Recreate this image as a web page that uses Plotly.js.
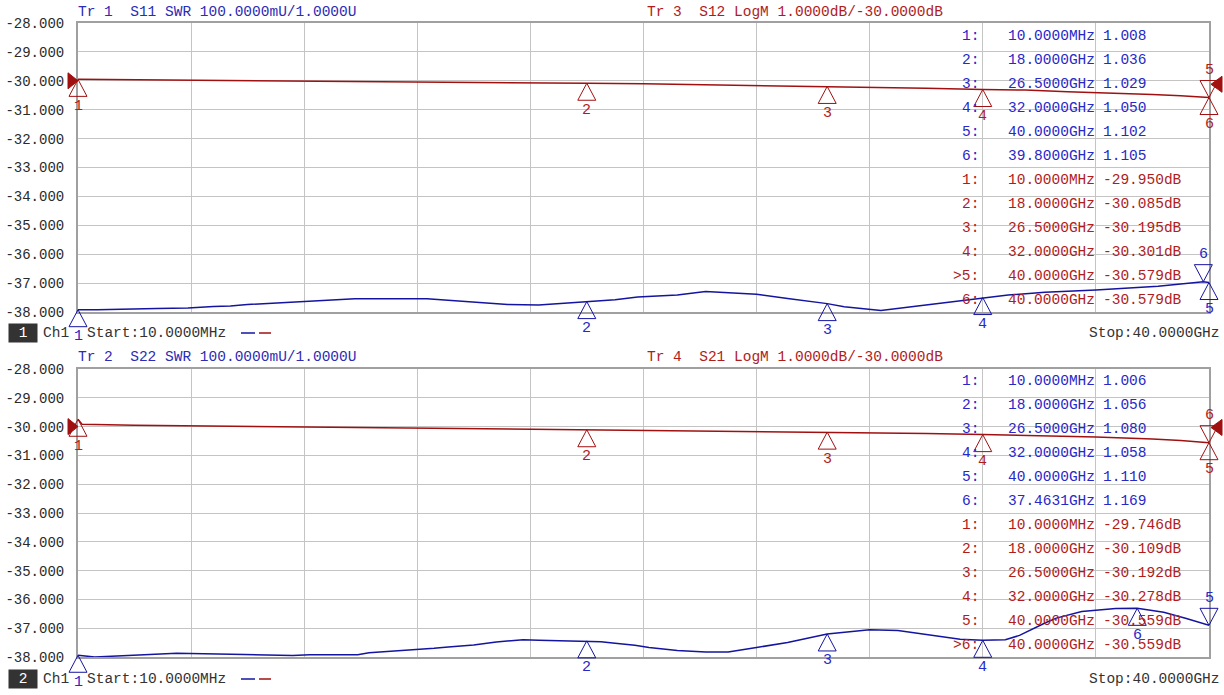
<!DOCTYPE html>
<html><head><meta charset="utf-8">
<script src="https://cdn.plot.ly/plotly-3.0.1.min.js"></script>
<style>body{margin:0;background:#fff}#chart{width:1224px;height:695px}
.shapelayer path,.shapelayer g{clip-path:none !important}</style>
</head><body><div id="chart"></div>
<script>
// ---------- data ----------
const dbTicks = [-28,-29,-30,-31,-32,-33,-34,-35,-36,-37,-38];
const dbTickLabels = ['-28.000','-29.000','-30.000','-31.000','-32.000','-33.000','-34.000','-35.000','-36.000','-37.000','-38.000'];

// Tr1 S11 SWR (GHz, U)
const s11Freq = [0.01,0.7,2.8,3.9,4.8,5.4,6.0,6.6,7.1,7.8,8.3,9.1,9.8,12.35,12.9,13.3,13.9,14.3,15.2,16.3,16.9,17.4,18.0,18.4,19.0,19.8,21.2,22.2,23.1,24.0,25.1,26.5,27.1,28.2,28.4,29.7,30.9,32.0,32.9,34.2,36.0,38.2,39.8,40.0];
const s11Swr  = [1.008,1.008,1.012,1.014,1.019,1.021,1.026,1.029,1.033,1.036,1.040,1.042,1.046,1.046,1.042,1.038,1.034,1.031,1.026,1.024,1.028,1.032,1.036,1.038,1.042,1.052,1.059,1.071,1.066,1.061,1.047,1.029,1.018,1.005,1.005,1.021,1.036,1.050,1.059,1.068,1.076,1.089,1.105,1.102];
// Tr3 S12 LogM (GHz, dB)
const s12Freq = [0.01,1.6,3.2,5.5,7.6,9.5,12,14,16,18,20,22,24,26.5,28,30,32,33.5,35,36.5,38,39,40];
const s12Db   = [-29.95,-29.96,-29.99,-29.99,-30.01,-30.02,-30.03,-30.05,-30.07,-30.085,-30.10,-30.13,-30.16,-30.195,-30.21,-30.26,-30.301,-30.32,-30.38,-30.42,-30.47,-30.52,-30.579];
// Tr2 S22 SWR
const s22Freq = [0.01,0.6,1.2,2.2,3.5,5.9,7.6,8.2,9.9,10.3,11.3,11.9,12.6,13.1,14.0,14.8,15.75,16.3,18.0,18.5,19.0,19.7,20.2,21.2,22.2,23.0,24.0,25.1,26.5,27.1,28.0,29.0,30.2,31.2,32.0,32.8,33.3,33.7,34.2,34.6,35.5,36.7,37.46,38.4,39.2,40.0];
const s22Swr  = [1.006,1.000,1.003,1.008,1.013,1.009,1.005,1.008,1.008,1.015,1.021,1.026,1.030,1.035,1.042,1.052,1.060,1.058,1.056,1.053,1.048,1.041,1.033,1.023,1.017,1.017,1.033,1.050,1.080,1.087,1.095,1.092,1.076,1.062,1.058,1.060,1.075,1.095,1.118,1.135,1.158,1.168,1.169,1.155,1.134,1.110];
// Tr4 S21 LogM
const s21Freq = [0.01,0.15,2,4,6,8,10,12,14,16,18,20,22,24,26.5,28,30,32,34,36,38,39,40];
const s21Db   = [-29.746,-29.92,-29.95,-29.97,-29.99,-30.02,-30.04,-30.06,-30.07,-30.09,-30.109,-30.12,-30.15,-30.17,-30.192,-30.21,-30.24,-30.278,-30.31,-30.36,-30.43,-30.48,-30.559];

// markers
const markerIds = [1,2,3,4,5,6];
const s11MkFreq = [0.01,18,26.5,32,40,39.8];
const s11MkVal  = [1.008,1.036,1.029,1.050,1.102,1.105];
const s12MkFreq = [0.01,18,26.5,32,40,40];
const s12MkVal  = [-29.950,-30.085,-30.195,-30.301,-30.579,-30.579];
const s22MkFreq = [0.01,18,26.5,32,40,37.4631];
const s22MkVal  = [1.006,1.056,1.080,1.058,1.110,1.169];
const s21MkFreq = [0.01,18,26.5,32,40,40];
const s21MkVal  = [-29.746,-30.109,-30.192,-30.278,-30.559,-30.559];

// ---------- style ----------
const FONT = 'Liberation Mono, DejaVu Sans Mono, monospace';
const BLUE_LINE = '#1414a0', RED_LINE = '#a01010';
const BLUE_TXT = '#2828c8', RED_TXT = '#b01c1c';
const nb = s => s.replace(/ /g, '\u00a0');
const P = (px, py) => ({x: (px - 78) / 1131, y: (657 - py) / 634});

function fmtFreq(f) {
  return f < 1 ? (f * 1000).toFixed(4) + 'MHz' : f.toFixed(4) + 'GHz';
}

const traces = [
  {x: s12Freq, y: s12Db, xaxis: 'x2', yaxis: 'y3', mode: 'lines', line: {color: RED_LINE, width: 1.5}, hoverinfo: 'skip'},
  {x: s11Freq, y: s11Swr, xaxis: 'x2', yaxis: 'y4', mode: 'lines', line: {color: BLUE_LINE, width: 1.5}, hoverinfo: 'skip'},
  {x: s21Freq, y: s21Db, xaxis: 'x', yaxis: 'y', mode: 'lines', line: {color: RED_LINE, width: 1.5}, hoverinfo: 'skip'},
  {x: s22Freq, y: s22Swr, xaxis: 'x', yaxis: 'y2', mode: 'lines', line: {color: BLUE_LINE, width: 1.5}, hoverinfo: 'skip'}
];

const shapes = [];
const annotations = [];

function addMarkers(xref, yref, freqs, vals, downIdx, color, txtColor) {
  freqs.forEach((f, i) => {
    const down = downIdx.includes(i);
    shapes.push({
      type: 'path', xref, yref, xsizemode: 'pixel', ysizemode: 'pixel',
      xanchor: f, yanchor: vals[i],
      path: down ? 'M0,0L-9,17L9,17Z' : 'M0,0L-9,-17L9,-17Z',
      line: {color, width: 1}, fillcolor: 'rgba(0,0,0,0)', layer: 'above'
    });
    annotations.push({
      xref, yref, x: f, y: vals[i], text: String(markerIds[i]), showarrow: false,
      yshift: down ? 27 : -27, font: {family: FONT, size: 15, color: txtColor}
    });
  });
}
addMarkers('x2', 'y3', s12MkFreq, s12MkVal, [4], RED_LINE, RED_TXT);
addMarkers('x2', 'y4', s11MkFreq, s11MkVal, [5], BLUE_LINE, BLUE_TXT);
addMarkers('x', 'y', s21MkFreq, s21MkVal, [5], RED_LINE, RED_TXT);
addMarkers('x', 'y2', s22MkFreq, s22MkVal, [4], BLUE_LINE, BLUE_TXT);

// reference arrows (filled)
[['x2','y3',-30,-30.12],['x','y',-30,-30.03]].forEach(([xr, yr, yl, yr2]) => {
  shapes.push({type:'path', xref:xr, yref:yr, xsizemode:'pixel', ysizemode:'pixel', xanchor:0.01, yanchor:yl,
    path:'M0,0L-10,8L-10,-8Z', line:{color:RED_LINE,width:1}, fillcolor:RED_LINE, layer:'above'});
  shapes.push({type:'path', xref:xr, yref:yr, xsizemode:'pixel', ysizemode:'pixel', xanchor:40, yanchor:yr2,
    path:'M2,0L13,8L13,-8Z', line:{color:RED_LINE,width:1}, fillcolor:RED_LINE, layer:'above'});
});

function txt(px, py, text, color, xanchor, size) {
  const p = P(px, py);
  annotations.push({xref:'paper', yref:'paper', x:p.x, y:p.y, text:nb(text), showarrow:false,
    xanchor:xanchor || 'left', yanchor:'middle', font:{family:FONT, size:size || 14.5, color}});
}

// headers
txt(76, 12, 'Tr 1  S11 SWR 100.0000mU/1.0000U', '#2c2cb4');
txt(645, 12, 'Tr 3  S12 LogM 1.0000dB/-30.0000dB', RED_TXT);
txt(76, 357, 'Tr 2  S22 SWR 100.0000mU/1.0000U', '#2c2cb4');
txt(645, 357, 'Tr 4  S21 LogM 1.0000dB/-30.0000dB', RED_TXT);

// footers
function footer(py, ch) {
  const p = P(23, py);
  annotations.push({xref:'paper', yref:'paper', x:p.x, y:p.y, text:nb(' ' + ch + ' '), showarrow:false,
    xanchor:'center', yanchor:'middle', bgcolor:'#333333', borderpad:1,
    font:{family:FONT, size:14.5, color:'#ffffff'}});
  txt(41, py, 'Ch1', '#333333');
  txt(85, py, 'Start:10.0000MHz', '#333333');
  txt(1222, py, 'Stop:40.0000GHz', '#333333', 'right');
  const a = P(241, py), b = P(255, py), c = P(259, py), d = P(271, py);
  shapes.push({type:'line', xref:'paper', yref:'paper', x0:a.x, x1:b.x, y0:a.y, y1:a.y, line:{color:BLUE_LINE, width:1.5}});
  shapes.push({type:'line', xref:'paper', yref:'paper', x0:c.x, x1:d.x, y0:c.y, y1:c.y, line:{color:RED_LINE, width:1.5}});
}
footer(333, '1');
footer(679, '2');

// marker tables
function table(py0, swrFreq, swrVal, dbFreq, dbVal, activeIdx) {
  for (let i = 0; i < 6; i++) {
    const py = py0 + 24 * i;
    txt(981, py, markerIds[i] + ':', BLUE_TXT, 'right');
    txt(1097, py, fmtFreq(swrFreq[i]), BLUE_TXT, 'right');
    txt(1101, py, swrVal[i].toFixed(3), BLUE_TXT, 'left');
  }
  for (let i = 0; i < 6; i++) {
    const py = py0 + 24 * (i + 6);
    txt(981, py, (i === activeIdx ? '>' : '') + markerIds[i] + ':', RED_TXT, 'right');
    txt(1097, py, fmtFreq(dbFreq[i]), RED_TXT, 'right');
    txt(1101, py, dbVal[i].toFixed(3) + 'dB', RED_TXT, 'left');
  }
}
table(36, s11MkFreq, s11MkVal, s12MkFreq, s12MkVal, 4);
table(381, s22MkFreq, s22MkVal, s21MkFreq, s21MkVal, 5);

const xCommon = {range:[0.01,40], tick0:0.01, dtick:3.999, showticklabels:false, showgrid:true,
  gridcolor:'#c4c4c4', gridwidth:1, zeroline:false, showline:true, mirror:true, linecolor:'#a0a0a0',
  linewidth:2, ticks:'', fixedrange:true};
const yCommon = {range:[-38,-28], tickmode:'array', tickvals:dbTicks, ticktext:dbTickLabels,
  tickfont:{family:FONT, size:14, color:'#2a2a2a'}, ticks:'outside', ticklen:9, tickcolor:'rgba(0,0,0,0)',
  showgrid:true, gridcolor:'#c4c4c4', gridwidth:1, zeroline:false, showline:true, mirror:true,
  linecolor:'#a0a0a0', linewidth:2, fixedrange:true};

const layout = {
  width:1224, height:695, margin:{l:78, r:15, t:23, b:38},
  paper_bgcolor:'#ffffff', plot_bgcolor:'#ffffff', showlegend:false,
  xaxis: Object.assign({}, xCommon, {anchor:'y', domain:[0,1]}),
  xaxis2: Object.assign({}, xCommon, {anchor:'y3', domain:[0,1]}),
  yaxis: Object.assign({}, yCommon, {anchor:'x', domain:[0, (657-369)/634]}),
  yaxis2: {overlaying:'y', anchor:'x', range:[1,2], visible:false, fixedrange:true},
  yaxis3: Object.assign({}, yCommon, {anchor:'x2', domain:[(657-312)/634, 1]}),
  yaxis4: {overlaying:'y3', anchor:'x2', range:[1,2], visible:false, fixedrange:true},
  shapes, annotations
};

function unclip() {
  document.querySelectorAll('.shapelayer path, .shapelayer g').forEach(p => {
    p.removeAttribute('clip-path');
    p.style.clipPath = 'none';
  });
}
Plotly.newPlot('chart', traces, layout, {staticPlot:true, displayModeBar:false}).then(() => {
  unclip();
  setTimeout(unclip, 0);
  setTimeout(unclip, 200);
});
</script></body></html>
